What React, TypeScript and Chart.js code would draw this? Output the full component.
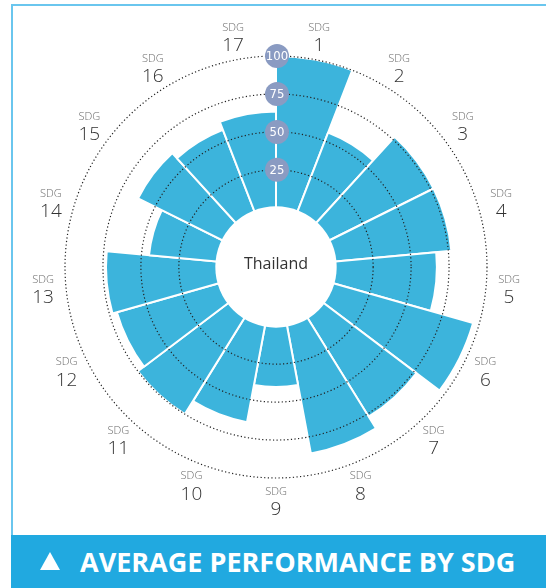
import React, { useEffect, useRef } from "react";
import { Chart, registerables } from "chart.js";

Chart.register(...registerables);

// ---- data ----
const categories = ["1", "2", "3", "4", "5", "6", "7", "8", "9", "10", "11", "12", "13", "14", "15", "16", "17"];
const labelPrefix = "SDG";
const scores = [100, 56, 77, 77, 67, 96, 77, 86, 40, 65, 75, 70, 73, 45, 62.5, 58, 63.5];
const tickValues = [25, 50, 75, 100];
const centerLabel = "Thailand";
const bannerTitle = "AVERAGE PERFORMANCE BY SDG";

const BAR_COLOR = "#3cb4dc";
const BADGE_COLOR = "#8a9bc2";
const BANNER_COLOR = "#21a9e0";
const FRAME_COLOR = "#6ac6ee";
const FONT = "'Open Sans', 'Noto Sans', sans-serif";

const decorPlugin = {
  id: "decor",
  afterDatasetsDraw(chart: any) {
    const s = chart.scales.r;
    const ctx = chart.ctx;
    const r0 = s.getDistanceFromCenterForValue(0);
    ctx.save();
    ctx.beginPath();
    ctx.arc(s.xCenter, s.yCenter, r0 + 1.5, 0, Math.PI * 2);
    ctx.fillStyle = "#ffffff";
    ctx.fill();
    ctx.restore();
  },
  afterDraw(chart: any) {
    const s = chart.scales.r;
    const ctx = chart.ctx;
    const cx = s.xCenter;
    const cy = s.yCenter;
    ctx.save();
    // badges on the radial axis
    tickValues.forEach((v) => {
      const y = cy - s.getDistanceFromCenterForValue(v);
      ctx.beginPath();
      ctx.arc(cx + 1, y, 12, 0, Math.PI * 2);
      ctx.fillStyle = BADGE_COLOR;
      ctx.fill();
      ctx.fillStyle = "#ffffff";
      ctx.font = "13px 'Liberation Sans Narrow', 'DejaVu Sans Condensed', sans-serif";
      ctx.textAlign = "center";
      ctx.textBaseline = "middle";
      ctx.fillText(String(v), cx + 1, y + 0.5);
    });
    // center label
    ctx.fillStyle = "#333333";
    ctx.font = `16px ${FONT}`;
    ctx.textAlign = "center";
    ctx.textBaseline = "middle";
    ctx.fillText(centerLabel, cx, cy - 3);
    // category labels at arc centers
    const n = categories.length;
    const step = (Math.PI * 2) / n;
    const rr = s.drawingArea + 23;
    categories.forEach((c, i) => {
      const a = s.getIndexAngle(i) + step / 2 - Math.PI / 2;
      const x = cx + Math.cos(a) * rr;
      const y = cy + Math.sin(a) * rr;
      ctx.fillStyle = "#6b6b6b";
      ctx.font = `300 11px ${FONT}`;
      ctx.fillText(labelPrefix, x, y - 9);
      ctx.fillStyle = "#333333";
      ctx.font = `300 19px ${FONT}`;
      ctx.fillText(c, x, y + 9);
    });
    ctx.restore();
  },
};

export default function App() {
  const ref = useRef<HTMLCanvasElement | null>(null);

  useEffect(() => {
    if (!ref.current) return;
    const chart = new Chart(ref.current, {
      type: "polarArea",
      data: {
        labels: categories.map((c) => `${labelPrefix} ${c}`),
        datasets: [
          {
            data: scores,
            backgroundColor: BAR_COLOR,
            borderColor: "#ffffff",
            borderWidth: 2,
          },
        ],
      },
      options: {
        responsive: false,
        animation: false,
        layout: { padding: { left: 65, top: 56, right: 59, bottom: 110 } },
        plugins: { legend: { display: false }, tooltip: { enabled: false } },
        scales: {
          r: {
            min: -39,
            max: 100,
            startAngle: 0,
            afterBuildTicks: (scale: any) => {
              scale.ticks = tickValues.map((v) => ({ value: v }));
            },
            ticks: { display: false },
            angleLines: { display: false },
            pointLabels: { display: false },
            grid: { circular: true, color: "#222222", lineWidth: 1.2, z: 1 },
            border: { dash: [1.2, 2.4] },
          },
        },
      } as any,
      plugins: [decorPlugin],
    });
    return () => chart.destroy();
  }, []);

  return (
    <div style={{ position: "absolute", left: 0, top: 0, width: 546, height: 588, overflow: "hidden", background: "#fff" }}>
      <div
        style={{
          position: "absolute",
          left: 11,
          top: 4,
          width: 560,
          height: 560,
          border: `2px solid ${FRAME_COLOR}`,
          boxSizing: "border-box",
        }}
      />
      <canvas ref={ref} width={546} height={588} style={{ position: "absolute", left: 0, top: 0 }} />
      <div
        style={{
          position: "absolute",
          left: 11,
          top: 535,
          width: 540,
          height: 53,
          background: BANNER_COLOR,
          color: "#fff",
          display: "flex",
          alignItems: "center",
          fontFamily: FONT,
          fontWeight: 700,
          fontSize: 27,
          whiteSpace: "nowrap",
        }}
      >
        <div
          style={{
            width: 0,
            height: 0,
            borderLeft: "10px solid transparent",
            borderRight: "10px solid transparent",
            borderBottom: "18px solid #ffffff",
            marginLeft: 29,
            marginRight: 20,
            marginTop: -2,
          }}
        />
        <span>{bannerTitle}</span>
      </div>
    </div>
  );
}
